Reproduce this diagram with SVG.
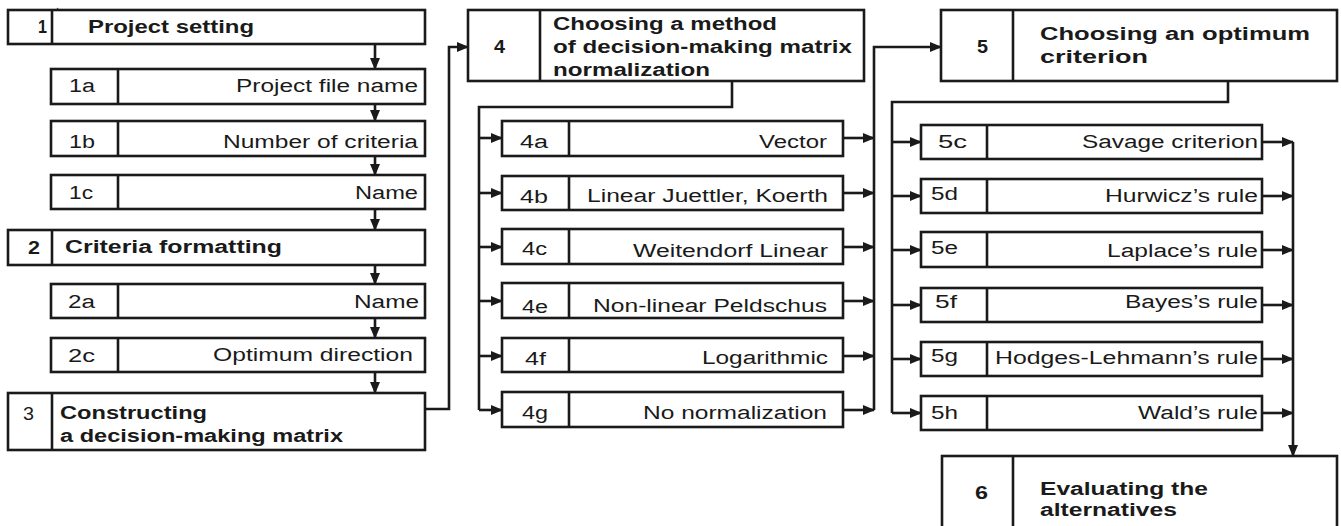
<svg xmlns="http://www.w3.org/2000/svg" width="1341" height="526" viewBox="0 0 1341 526">
<style>
.bx{fill:#fff;stroke:#1a1a1a;stroke-width:2.6}
.dv{stroke:#1a1a1a;stroke-width:2.6}
.t{font-family:"Liberation Sans",Arial,sans-serif;font-size:18px;fill:#1a1a1a}
.b{font-family:"Liberation Sans",Arial,sans-serif;font-size:18px;font-weight:bold;fill:#1a1a1a}
.c{fill:none;stroke:#1a1a1a;stroke-width:2.6}
.a{fill:none;stroke:#1a1a1a;stroke-width:2.6;marker-end:url(#ah)}
</style>
<defs>
<marker id="ah" markerUnits="userSpaceOnUse" markerWidth="12" markerHeight="10" refX="11" refY="5" orient="auto">
<path d="M0,0 L12,5 L0,10 z" fill="#1a1a1a"/>
</marker>
</defs>
<rect width="1341" height="526" fill="#fff"/>
<text class="t" x="56" y="9" style="font-size:11px">.</text>

<g id="connectors">
<path class="a" d="M375,44 V69"/>
<path class="a" d="M375,104 V121"/>
<path class="a" d="M375,156 V175"/>
<path class="a" d="M375,209 V230"/>
<path class="a" d="M375,265 V284"/>
<path class="a" d="M375,318 V338"/>
<path class="a" d="M375,372 V393"/>
<path class="a" d="M425,409 H449 V47 H468"/>
<path class="c" d="M732,81 V107 H479 V410"/>
<path class="a" d="M479,138 H502"/>
<path class="a" d="M479,193 H502"/>
<path class="a" d="M479,247 H502"/>
<path class="a" d="M479,301 H502"/>
<path class="a" d="M479,356 H502"/>
<path class="a" d="M479,410 H502"/>
<path class="a" d="M843,138 H874"/>
<path class="a" d="M843,193 H874"/>
<path class="a" d="M843,247 H874"/>
<path class="a" d="M843,301 H874"/>
<path class="a" d="M843,356 H874"/>
<path class="a" d="M843,410 H874"/>
<path class="a" d="M874,410 V47 H941"/>
<path class="c" d="M1228,81 V102 H892 V413"/>
<path class="a" d="M892,142 H921"/>
<path class="a" d="M892,196 H921"/>
<path class="a" d="M892,250 H921"/>
<path class="a" d="M892,305 H921"/>
<path class="a" d="M892,359 H921"/>
<path class="a" d="M892,413 H921"/>
<path class="a" d="M1262,142 H1293"/>
<path class="a" d="M1262,196 H1293"/>
<path class="a" d="M1262,250 H1293"/>
<path class="a" d="M1262,305 H1293"/>
<path class="a" d="M1262,359 H1293"/>
<path class="a" d="M1262,413 H1293"/>
<path class="a" d="M1293,142 V456"/>
</g>

<g id="n1"><rect class="bx" x="8" y="10" width="417" height="34"/><line class="dv" x1="52" y1="10" x2="52" y2="44"/>
<text class="b" x="38" y="33" textLength="9" lengthAdjust="spacingAndGlyphs">1</text>
<text class="b" x="88" y="33" textLength="166" lengthAdjust="spacingAndGlyphs">Project setting</text></g>

<g id="n1a"><rect class="bx" x="51" y="69" width="374" height="35"/><line class="dv" x1="118" y1="69" x2="118" y2="104"/>
<text class="t" x="69" y="92" textLength="26" lengthAdjust="spacingAndGlyphs">1a</text>
<text class="t" x="236" y="92" textLength="182" lengthAdjust="spacingAndGlyphs">Project file name</text></g>

<g id="n1b"><rect class="bx" x="51" y="121" width="374" height="35"/><line class="dv" x1="118" y1="121" x2="118" y2="156"/>
<text class="t" x="69" y="148" textLength="26" lengthAdjust="spacingAndGlyphs">1b</text>
<text class="t" x="223" y="148" textLength="195" lengthAdjust="spacingAndGlyphs">Number of criteria</text></g>

<g id="n1c"><rect class="bx" x="51" y="175" width="374" height="34"/><line class="dv" x1="118" y1="175" x2="118" y2="209"/>
<text class="t" x="69" y="199" textLength="24" lengthAdjust="spacingAndGlyphs">1c</text>
<text class="t" x="355" y="199" textLength="63" lengthAdjust="spacingAndGlyphs">Name</text></g>

<g id="n2"><rect class="bx" x="8" y="230" width="417" height="35"/><line class="dv" x1="52" y1="230" x2="52" y2="265"/>
<text class="b" x="28" y="254" textLength="12" lengthAdjust="spacingAndGlyphs">2</text>
<text class="b" x="65" y="253" textLength="217" lengthAdjust="spacingAndGlyphs">Criteria formatting</text></g>

<g id="n2a"><rect class="bx" x="51" y="284" width="374" height="34"/><line class="dv" x1="118" y1="284" x2="118" y2="318"/>
<text class="t" x="68" y="308" textLength="27" lengthAdjust="spacingAndGlyphs">2a</text>
<text class="t" x="354" y="308" textLength="65" lengthAdjust="spacingAndGlyphs">Name</text></g>

<g id="n2c"><rect class="bx" x="51" y="338" width="374" height="34"/><line class="dv" x1="118" y1="338" x2="118" y2="372"/>
<text class="t" x="68" y="362" textLength="27" lengthAdjust="spacingAndGlyphs">2c</text>
<text class="t" x="213" y="361" textLength="200" lengthAdjust="spacingAndGlyphs">Optimum direction</text></g>

<g id="n3"><rect class="bx" x="8" y="393" width="417" height="57"/><line class="dv" x1="52" y1="393" x2="52" y2="450"/>
<text class="t" x="23" y="420" textLength="11" lengthAdjust="spacingAndGlyphs">3</text>
<text class="b" x="60" y="419" textLength="147" lengthAdjust="spacingAndGlyphs">Constructing</text>
<text class="b" x="60" y="442" textLength="283" lengthAdjust="spacingAndGlyphs">a decision-making matrix</text></g>

<g id="n4"><rect class="bx" x="468" y="10" width="396" height="71"/><line class="dv" x1="540" y1="10" x2="540" y2="81"/>
<text class="b" x="494" y="53" textLength="11" lengthAdjust="spacingAndGlyphs">4</text>
<text class="b" x="553" y="30" textLength="224" lengthAdjust="spacingAndGlyphs">Choosing a method</text>
<text class="b" x="553" y="53" textLength="299" lengthAdjust="spacingAndGlyphs">of decision-making matrix</text>
<text class="b" x="553" y="76" textLength="157" lengthAdjust="spacingAndGlyphs">normalization</text></g>

<g id="n4a"><rect class="bx" x="502" y="121" width="341" height="35"/><line class="dv" x1="569" y1="121" x2="569" y2="156"/>
<text class="t" x="520" y="148" textLength="28" lengthAdjust="spacingAndGlyphs">4a</text>
<text class="t" x="759" y="148" textLength="68" lengthAdjust="spacingAndGlyphs">Vector</text></g>

<g id="n4b"><rect class="bx" x="502" y="176" width="341" height="34"/><line class="dv" x1="569" y1="176" x2="569" y2="210"/>
<text class="t" x="520" y="203" textLength="28" lengthAdjust="spacingAndGlyphs">4b</text>
<text class="t" x="587" y="202" textLength="241" lengthAdjust="spacingAndGlyphs">Linear Juettler, Koerth</text></g>

<g id="n4c"><rect class="bx" x="502" y="229" width="341" height="35"/><line class="dv" x1="569" y1="229" x2="569" y2="264"/>
<text class="t" x="522" y="255" textLength="25" lengthAdjust="spacingAndGlyphs">4c</text>
<text class="t" x="633" y="257" textLength="195" lengthAdjust="spacingAndGlyphs">Weitendorf Linear</text></g>

<g id="n4e"><rect class="bx" x="502" y="283" width="341" height="35"/><line class="dv" x1="569" y1="283" x2="569" y2="318"/>
<text class="t" x="522" y="313" textLength="26" lengthAdjust="spacingAndGlyphs">4e</text>
<text class="t" x="593" y="312" textLength="234" lengthAdjust="spacingAndGlyphs">Non-linear Peldschus</text></g>

<g id="n4f"><rect class="bx" x="502" y="338" width="341" height="34"/><line class="dv" x1="569" y1="338" x2="569" y2="372"/>
<text class="t" x="525" y="365" textLength="21" lengthAdjust="spacingAndGlyphs">4f</text>
<text class="t" x="702" y="364" textLength="126" lengthAdjust="spacingAndGlyphs">Logarithmic</text></g>

<g id="n4g"><rect class="bx" x="502" y="392" width="341" height="35"/><line class="dv" x1="569" y1="392" x2="569" y2="427"/>
<text class="t" x="522" y="419" textLength="26" lengthAdjust="spacingAndGlyphs">4g</text>
<text class="t" x="643" y="419" textLength="184" lengthAdjust="spacingAndGlyphs">No normalization</text></g>

<g id="n5"><rect class="bx" x="941" y="10" width="396" height="71"/><line class="dv" x1="1013" y1="10" x2="1013" y2="81"/>
<text class="b" x="977" y="53" textLength="11" lengthAdjust="spacingAndGlyphs">5</text>
<text class="b" x="1040" y="40" textLength="270" lengthAdjust="spacingAndGlyphs">Choosing an optimum</text>
<text class="b" x="1040" y="63" textLength="108" lengthAdjust="spacingAndGlyphs">criterion</text></g>

<g id="n5c"><rect class="bx" x="921" y="125" width="341" height="34"/><line class="dv" x1="987" y1="125" x2="987" y2="159"/>
<text class="t" x="938" y="148" textLength="29" lengthAdjust="spacingAndGlyphs">5c</text>
<text class="t" x="1082" y="148" textLength="176" lengthAdjust="spacingAndGlyphs">Savage criterion</text></g>

<g id="n5d"><rect class="bx" x="921" y="179" width="341" height="34"/><line class="dv" x1="987" y1="179" x2="987" y2="213"/>
<text class="t" x="931" y="200" textLength="27" lengthAdjust="spacingAndGlyphs">5d</text>
<text class="t" x="1105" y="202" textLength="153" lengthAdjust="spacingAndGlyphs">Hurwicz’s rule</text></g>

<g id="n5e"><rect class="bx" x="921" y="232" width="341" height="35"/><line class="dv" x1="987" y1="232" x2="987" y2="267"/>
<text class="t" x="931" y="254" textLength="27" lengthAdjust="spacingAndGlyphs">5e</text>
<text class="t" x="1107" y="257" textLength="151" lengthAdjust="spacingAndGlyphs">Laplace’s rule</text></g>

<g id="n5f"><rect class="bx" x="921" y="288" width="341" height="34"/><line class="dv" x1="987" y1="288" x2="987" y2="322"/>
<text class="t" x="935" y="308" textLength="22" lengthAdjust="spacingAndGlyphs">5f</text>
<text class="t" x="1125" y="308" textLength="133" lengthAdjust="spacingAndGlyphs">Bayes’s rule</text></g>

<g id="n5g"><rect class="bx" x="921" y="342" width="341" height="34"/><line class="dv" x1="987" y1="342" x2="987" y2="376"/>
<text class="t" x="931" y="362" textLength="27" lengthAdjust="spacingAndGlyphs">5g</text>
<text class="t" x="995" y="364" textLength="263" lengthAdjust="spacingAndGlyphs">Hodges-Lehmann’s rule</text></g>

<g id="n5h"><rect class="bx" x="921" y="396" width="341" height="34"/><line class="dv" x1="987" y1="396" x2="987" y2="430"/>
<text class="t" x="931" y="419" textLength="27" lengthAdjust="spacingAndGlyphs">5h</text>
<text class="t" x="1138" y="419" textLength="120" lengthAdjust="spacingAndGlyphs">Wald’s rule</text></g>

<g id="n6"><rect class="bx" x="942" y="456" width="395" height="80"/><line class="dv" x1="1013" y1="456" x2="1013" y2="536"/>
<text class="b" x="975" y="499" textLength="13" lengthAdjust="spacingAndGlyphs">6</text>
<text class="b" x="1040" y="495" textLength="168" lengthAdjust="spacingAndGlyphs">Evaluating the</text>
<text class="b" x="1040" y="516" textLength="137" lengthAdjust="spacingAndGlyphs">alternatives</text></g>
</svg>
